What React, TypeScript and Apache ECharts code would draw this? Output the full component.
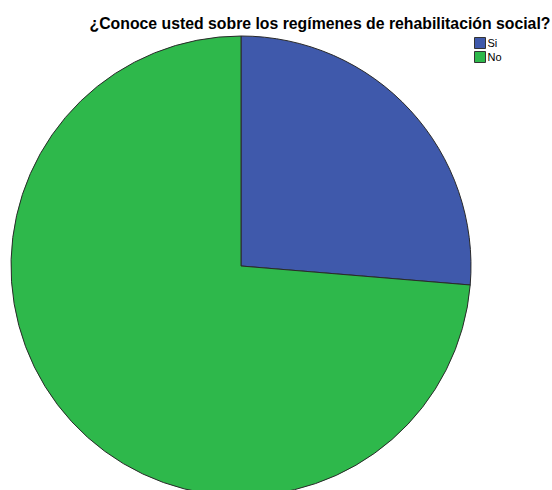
import React, { useEffect, useRef } from "react";
import * as echarts from "echarts";

const categories = ["Si", "No"];
const values = [10, 28];
const colors = ["#3F59AB", "#2EB84B"];
const titleText = "¿Conoce usted sobre los regímenes de rehabilitación social?";

export default function App() {
  const ref = useRef<HTMLDivElement>(null);
  useEffect(() => {
    const chart = echarts.init(ref.current!, null, { renderer: "svg" });
    chart.setOption({
      animation: false,
      backgroundColor: "#ffffff",
      title: {
        text: titleText,
        left: 315,
        textAlign: "center",
        top: 10,
        textStyle: { fontFamily: "Liberation Sans", fontSize: 15.8, fontWeight: "bold", color: "#000" },
      },
      legend: {
        orient: "vertical",
        left: 474,
        top: 37,
        padding: 0,
        itemWidth: 11,
        itemHeight: 11,
        itemGap: 2,
        icon: "rect",
        data: categories,
        textStyle: { fontFamily: "Liberation Sans", fontSize: 11, lineHeight: 11, color: "#000", padding: [0, 0, 0, -3] },
        itemStyle: { borderColor: "#333", borderWidth: 1 },
      },
      series: [
        {
          type: "pie",
          center: [241, 266],
          radius: 230,
          startAngle: 90,
          clockwise: true,
          label: { show: false },
          labelLine: { show: false },
          itemStyle: { borderColor: "#2a2a2a", borderWidth: 1 },
          emphasis: { disabled: true },
          data: categories.map((c, i) => ({ name: c, value: values[i], itemStyle: { color: colors[i] } })),
        },
      ],
    });
    return () => chart.dispose();
  }, []);
  return <div ref={ref} style={{ position: "absolute", left: 0, top: 0, width: 552, height: 490 }} />;
}
